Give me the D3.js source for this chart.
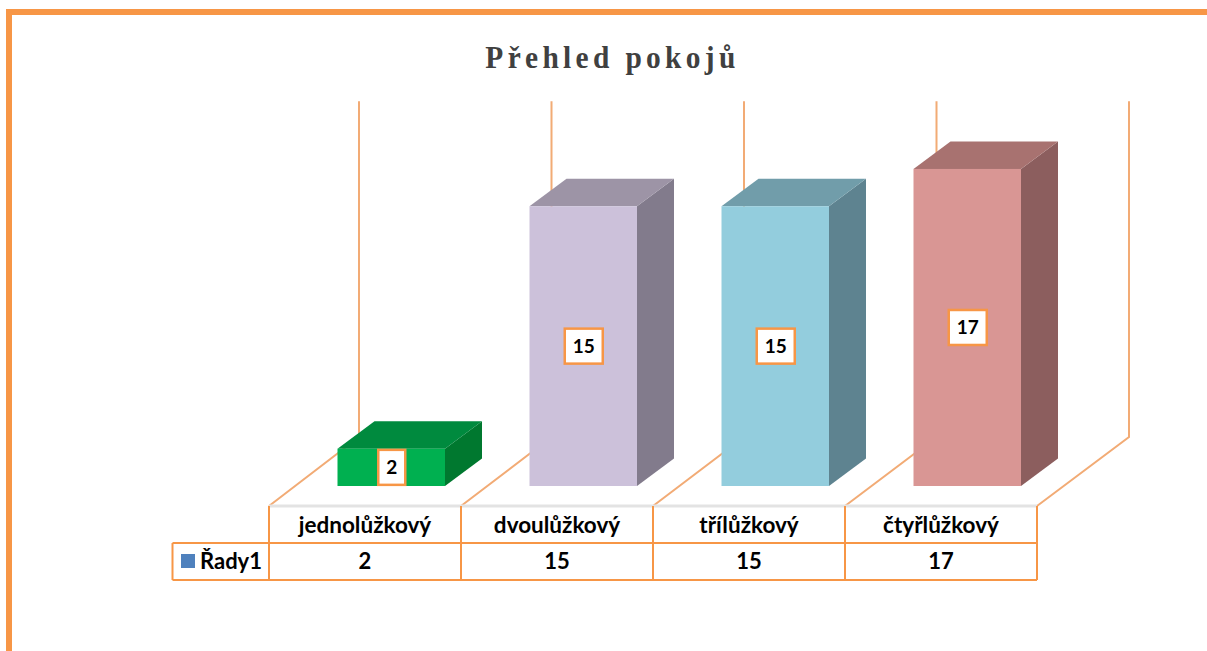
<!DOCTYPE html>
<html>
<head>
<meta charset="utf-8">
<script src="https://cdnjs.cloudflare.com/ajax/libs/d3/7.8.5/d3.min.js"></script>
<style>
html, body { margin: 0; padding: 0; background: #fff; overflow: hidden; }
svg { display: block; }
text { font-family: Lato, sans-serif; font-weight: 700; fill: #000; }
</style>
</head>
<body>
<svg></svg>
<script>
const categories = ['jednolůžkový', 'dvoulůžkový', 'třílůžkový', 'čtyřlůžkový'];
const values = [2, 15, 15, 17];
const seriesName = 'Řady1';
const titleText = 'Přehled pokojů';
const frontColors = ['#00b050', '#ccc1da', '#93cddd', '#d99694'];
const topColors = ['#008a3e', '#9d94a6', '#719daa', '#a87270'];
const sideColors = ['#00782f', '#827b8c', '#5e8390', '#8c5e5e'];

const orange = '#f79646';
const gridColor = '#f2ab75';

const svg = d3.select('svg')
	.attr('width', 1207)
	.attr('height', 651);

// page frame, only top and left are visible
svg.append('path')
	.attr('d', 'M9,651V12H1207')
	.attr('fill', 'none')
	.attr('stroke', orange)
	.attr('stroke-width', 6);

svg.append('text')
	.attr('transform', 'translate(612.5, 68) scale(0.92, 1)')
	.attr('text-anchor', 'middle')
	.style('font-family', '"Liberation Serif", serif')
	.style('font-size', '32px')
	.style('letter-spacing', '4.7px')
	.style('fill', '#404040')
	.text(titleText);

const floorY = 506,
	backY = 437,
	rowHeight = 37,
	barDepth = { x: 37, y: 27.5 },
	barInset = 68.5,
	barWidth = 107.5,
	baseY = 486;

const xScale = d3.scaleBand()
	.domain(categories)
	.range([269, 1037]);

// back edge of the floor, slightly wider than the front
const backScale = d3.scaleBand()
	.domain(categories)
	.range([359, 1129]);

const yScale = d3.scaleLinear()
	.domain([0, 18])
	.range([baseY, baseY - 335.7]);

const wallTop = yScale(18) - (baseY - backY);
const edges = categories.map(c => xScale(c)).concat([xScale.range()[1]]);
const backEdges = categories.map(c => backScale(c)).concat([backScale.range()[1]]);

// floor and back wall
const grid = svg.append('g').attr('fill', 'none').attr('stroke', gridColor).attr('stroke-width', 2);
grid.selectAll('path')
	.data(edges)
	.enter().append('path')
	.attr('d', (d, i) => `M${d},${floorY}L${backEdges[i]},${backY}V${wallTop}`);

svg.append('line')
	.attr('x1', edges[0])
	.attr('x2', edges[4])
	.attr('y1', floorY)
	.attr('y2', floorY)
	.attr('stroke', '#e3e3e3')
	.attr('stroke-width', 3);

// bars
const bars = svg.selectAll('.bar')
	.data(values)
	.enter().append('g')
	.attr('class', 'bar');

const barX = i => xScale(categories[i]) + barInset;

bars.append('path')
	.attr('fill', (d, i) => sideColors[i])
	.attr('d', (d, i) => {
		const r = barX(i) + barWidth;
		return `M${r},${baseY}V${yScale(d)}l${barDepth.x},${-barDepth.y}V${baseY - barDepth.y}Z`;
	});

bars.append('path')
	.attr('fill', (d, i) => topColors[i])
	.attr('d', (d, i) => `M${barX(i)},${yScale(d)}h${barWidth}l${barDepth.x},${-barDepth.y}h${-barWidth}Z`);

bars.append('rect')
	.attr('x', (d, i) => barX(i))
	.attr('y', d => yScale(d))
	.attr('width', barWidth)
	.attr('height', d => baseY - yScale(d))
	.attr('fill', (d, i) => frontColors[i]);

// value labels on the bars
const labelWidth = d => String(d).length > 1 ? 38 : 27;

bars.append('rect')
	.attr('x', (d, i) => barX(i) + barWidth / 2 - labelWidth(d) / 2 + 0.5)
	.attr('y', d => (yScale(d) + baseY) / 2 - 17.5)
	.attr('width', labelWidth)
	.attr('height', 35)
	.attr('fill', '#fff')
	.attr('stroke', orange)
	.attr('stroke-width', 2.5);

bars.append('text')
	.attr('x', (d, i) => barX(i) + barWidth / 2 + 0.5)
	.attr('y', d => (yScale(d) + baseY) / 2 + 7)
	.attr('text-anchor', 'middle')
	.style('font-size', '19px')
	.text(d => d);

// data table below the chart
const table = svg.append('g').attr('fill', 'none').attr('stroke', orange).attr('stroke-width', 2);
const legendX = 172.5;
table.selectAll('line.v')
	.data(edges)
	.enter().append('line')
	.attr('class', 'v')
	.attr('x1', d => d)
	.attr('x2', d => d)
	.attr('y1', floorY)
	.attr('y2', floorY + 2 * rowHeight);
table.append('path')
	.attr('d', `M${legendX},${floorY + rowHeight}H${edges[4]}M${legendX},${floorY + 2 * rowHeight}H${edges[4]}M${legendX},${floorY + rowHeight}V${floorY + 2 * rowHeight}`);

const xAxis = d3.axisBottom(xScale).tickSize(0).tickPadding(0);
const xAxisG = svg.append('g')
	.attr('transform', `translate(0, ${floorY + 11})`)
	.call(xAxis);
xAxisG.select('.domain').remove();
xAxisG.selectAll('text')
	.attr('dy', '0.71em')
	.style('font-size', '22.5px')
	.style('font-family', 'Lato, sans-serif');

svg.selectAll('.cell')
	.data(values)
	.enter().append('text')
	.attr('class', 'cell')
	.attr('x', (d, i) => xScale(categories[i]) + xScale.bandwidth() / 2)
	.attr('y', floorY + rowHeight + 26)
	.attr('text-anchor', 'middle')
	.style('font-size', '22px')
	.text(d => d);

svg.append('rect')
	.attr('x', 181)
	.attr('y', 554)
	.attr('width', 14)
	.attr('height', 14)
	.attr('fill', '#4f81bd');

svg.append('text')
	.attr('x', 200)
	.attr('y', floorY + rowHeight + 26)
	.style('font-size', '22px')
	.text(seriesName);
</script>
</body>
</html>
